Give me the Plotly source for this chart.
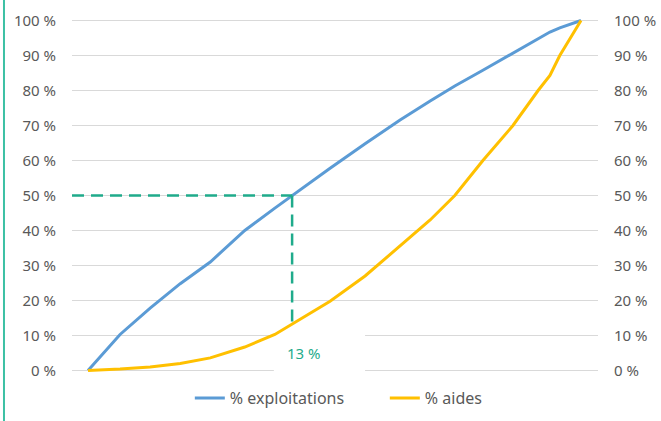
import plotly.graph_objects as go

# Position along the (hidden) horizontal axis, 0 -> 100
x_pos = [0, 6.5, 12.6, 18.7, 24.8, 31.8, 37.9, 41.4, 49.1, 56.2, 63.3, 69.4,
         74.4, 80.1, 86.2, 91.3, 93.7, 95.7, 100]
exploitations = [0, 10.3, 17.8, 24.8, 31.0, 40.0, 46.4, 50.0, 57.8, 64.8, 71.6, 77.0,
                 81.3, 85.8, 90.7, 94.9, 96.7, 97.9, 100]
aides = [0, 0.4, 1.0, 2.0, 3.6, 6.7, 10.3, 13.2, 19.8, 27.0, 35.5, 43.0,
         50.0, 60.0, 70.0, 80.0, 84.3, 90.0, 100]
median_idx = 7
median_label = "13 %"
tick_vals = list(range(0, 101, 10))
tick_text = [f"{v} %" for v in tick_vals]

BLUE = "#5b9bd5"
YELLOW = "#ffc000"
TEAL = "#1fab8b"
GRAY = "#595959"
FONT = "Noto Sans"

fig = go.Figure()
fig.add_trace(go.Scatter(x=x_pos, y=exploitations, mode="lines", name="% exploitations",
                         line=dict(color=BLUE, width=3)))
fig.add_trace(go.Scatter(x=x_pos, y=aides, mode="lines", name="% aides",
                         line=dict(color=YELLOW, width=3)))
# invisible trace to activate right axis
fig.add_trace(go.Scatter(x=[x_pos[0]], y=[0], yaxis="y2", mode="lines",
                         showlegend=False, hoverinfo="skip", line=dict(width=0)))

xr = [-3.25, 103.45]
mx = x_pos[median_idx]
fig.add_shape(type="line", x0=xr[0], x1=mx, y0=exploitations[median_idx], y1=exploitations[median_idx],
              line=dict(color=TEAL, width=2.5, dash="12px,7px"), layer="above")
fig.add_shape(type="line", x0=mx, x1=mx, y0=exploitations[median_idx], y1=aides[median_idx],
              line=dict(color=TEAL, width=2.5, dash="12px,7px"), layer="above")
# white label box hiding gridlines
fig.add_shape(type="rect", x0=37.7, x1=56.2, y0=-0.6, y1=10.5, fillcolor="white",
              line=dict(width=0), layer="between")
fig.add_annotation(x=mx, y=5.1, text=median_label, showarrow=False, xshift=12,
                   font=dict(color=TEAL, size=15, family=FONT))
# left accent bar
fig.add_shape(type="line", xref="paper", yref="paper", x0=-0.1293, x1=-0.1293, y0=-0.2, y1=1.2,
              line=dict(color="#3cc1a4", width=2))

axis_common = dict(range=[-1, 101], tickmode="array", tickvals=tick_vals, ticktext=tick_text,
                   tickfont=dict(size=15, color=GRAY, family=FONT), zeroline=False,
                   showline=False, ticks="", ticklabelstandoff=15)
fig.update_layout(
    width=661, height=421,
    margin=dict(l=72, r=63, t=16.5, b=46.5, autoexpand=False),
    plot_bgcolor="white", paper_bgcolor="white",
    xaxis=dict(range=xr, showgrid=False, showticklabels=False, zeroline=False, ticks=""),
    yaxis=dict(showgrid=True, gridcolor="#d9d9d9", gridwidth=1, side="left", **axis_common),
    yaxis2=dict(overlaying="y", side="right", showgrid=False, **axis_common),
    legend=dict(orientation="h", x=0.224, xanchor="left", yref="container", y=0.0546,
                yanchor="middle", entrywidth=150,
                font=dict(size=16, color=GRAY, family=FONT), bgcolor="rgba(0,0,0,0)"),
    font=dict(family=FONT),
)
fig.write_html("out.html")
